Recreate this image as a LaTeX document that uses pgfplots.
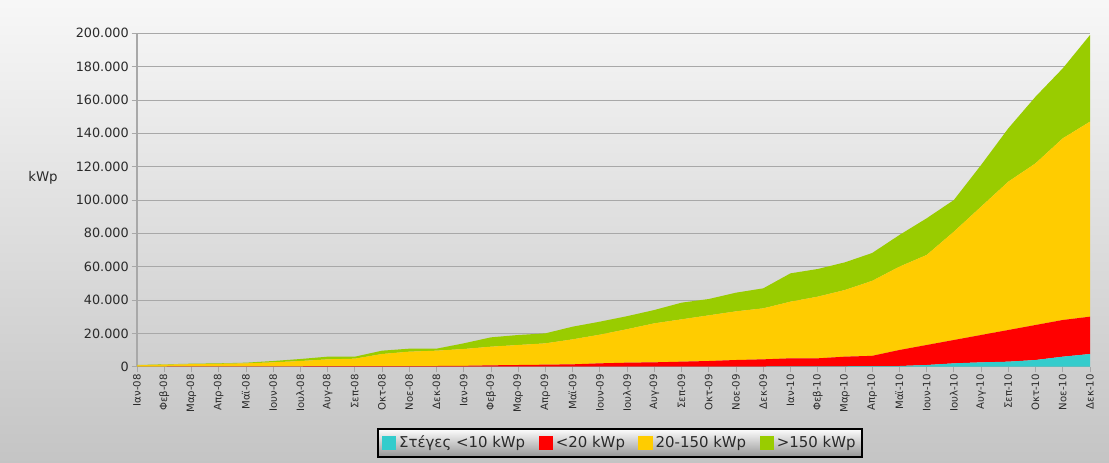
\documentclass[border=0pt]{standalone}
\usepackage{fontspec}
\setmainfont{DejaVu Sans}
\usepackage{pgfplots}
\usepackage{pgfplotstable}
\pgfplotsset{compat=1.18}

\definecolor{roofcyan}{HTML}{33CCCC}
\definecolor{smallred}{HTML}{FF0000}
\definecolor{midyellow}{HTML}{FFCC00}
\definecolor{biggreen}{HTML}{99CC00}
\definecolor{gridgray}{HTML}{A8A8A8}
\definecolor{labelgray}{HTML}{2A2A2A}

% Installed PV capacity per month (kWp), by size class
\pgfplotstableread{
m  roof  small  mid    large
0  0     100    700    200
1  0     100    1100   200
2  0     150    1350   300
3  0     150    1550   300
4  0     200    1800   400
5  0     200    2400   800
6  0     250    3150   1200
7  0     300    4100   1600
8  0     300    4500   1200
9  0     350    7250   2000
10 0     400    8600   1800
11 0     400    9200   1200
12 0     500    10100  3400
13 0     800    11200  5600
14 0     1000   12000  6000
15 0     1200   12800  6000
16 0     1400   15000  7600
17 0     2000   17200  7800
18 0     2400   20100  7800
19 0     2600   23400  8000
20 0     3000   25400  10000
21 0     3400   27400  9800
22 0     4000   29200  11200
23 100   4300   30600  12000
24 150   4850   34000  17000
25 200   4800   37000  16600
26 250   5750   40000  16600
27 300   6200   45000  16700
28 400   9600   50000  19000
29 1000  12000  54000  22000
30 2000  14000  65000  19000
31 2600  16400  77000  25000
32 3000  19000  89000  32000
33 4000  21000  97000  40000
34 6000  22000  109000 42000
35 7600  22400  117000 52000
}\pvdata

\begin{document}
\begin{tikzpicture}
\useasboundingbox (0,0) rectangle (831.75pt,346.5pt);
% page background
\shade[top color=white!97!black, bottom color=white!77!black] (0,0) rectangle (831.75pt,346.5pt);
\node[font=\fontsize{10}{12}\selectfont, text=labelgray] at (32.25pt,213pt) {kWp};

\begin{axis}[
  at={(102.75pt,71.5pt)}, anchor=south west,
  scale only axis, width=714.75pt, height=250pt,
  xmin=0, xmax=35, ymin=0, ymax=200000,
  stack plots=y,
  axis lines=left,
  axis line style={-, draw=gridgray, line width=0.8pt},
  ymajorgrids, grid style={gridgray, line width=0.7pt},
  tick align=outside, major tick length=4pt,
  tick style={draw=gridgray, line width=0.6pt},
  ytick distance=20000,
  scaled y ticks=false,
  /pgf/number format/.cd, fixed, 1000 sep={.}, assume math mode=true,
  /pgfplots/.cd,
  y tick label style={font=\fontsize{9.6}{11}\selectfont, text=labelgray, inner sep=2pt},
  xtick={0,...,35},
  xticklabels={Ιαν-08,Φεβ-08,Μαρ-08,Απρ-08,Μαϊ-08,Ιουν-08,Ιουλ-08,Αυγ-08,Σεπ-08,Οκτ-08,Νοε-08,Δεκ-08,
               Ιαν-09,Φεβ-09,Μαρ-09,Απρ-09,Μαϊ-09,Ιουν-09,Ιουλ-09,Αυγ-09,Σεπ-09,Οκτ-09,Νοε-09,Δεκ-09,
               Ιαν-10,Φεβ-10,Μαρ-10,Απρ-10,Μαϊ-10,Ιουν-10,Ιουλ-10,Αυγ-10,Σεπ-10,Οκτ-10,Νοε-10,Δεκ-10},
  x tick label style={rotate=90, anchor=east, font=\fontsize{7.6}{9}\selectfont, text=labelgray, inner sep=1.5pt},
  legend columns=4,
  legend image code/.code={\fill[#1] (0pt,-5.5pt) rectangle (11pt,5.5pt);},
  legend style={
    at={(0.5068,-0.229)}, anchor=center,
    draw=black, line width=1.3pt,
    top color=white, bottom color=black!42,
    font=\fontsize{11.2}{13}\selectfont, text=labelgray,
    inner xsep=3pt, inner ysep=3.5pt,
    /tikz/every even column/.append style={column sep=8pt},
  },
]
\addplot[fill=roofcyan, draw=none] table[x=m, y=roof] {\pvdata} \closedcycle;
\addplot[fill=smallred, draw=none] table[x=m, y=small] {\pvdata} \closedcycle;
\addplot[fill=midyellow, draw=none] table[x=m, y=mid] {\pvdata} \closedcycle;
\addplot[fill=biggreen, draw=none] table[x=m, y=large] {\pvdata} \closedcycle;
\legend{Στέγες <10 kWp, <20 kWp, 20-150 kWp, >150 kWp}
\end{axis}
\end{tikzpicture}
\end{document}
